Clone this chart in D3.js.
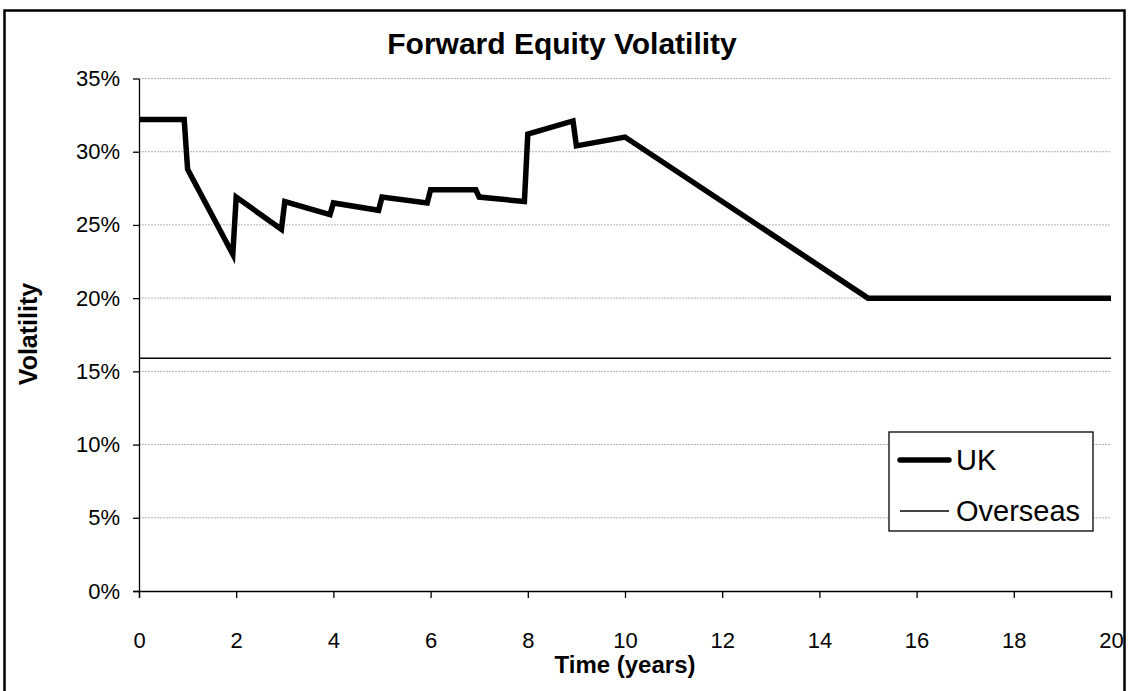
<!DOCTYPE html>
<html lang="en">
<head>
    <meta charset="UTF-8">
    <script src="https://d3js.org/d3.v7.min.js"></script>
</head>
<style>
    body { margin: 0; background: white; }
    svg { display: block; font-family: 'Liberation Sans', Arial, sans-serif; }
    .grid line { stroke: #b0b0b0; stroke-width: 1; stroke-dasharray: 2,1; }
    .axis path, .axis line { stroke: #000; stroke-width: 1.3; }
    .axis text { font-size: 22px; fill: #000; }
</style>
<body>
<div class="chart"></div>
<script>
    // UK forward vol (years, vol)
    const ukYears = [0, 0.93, 1, 1.93, 2, 2.93, 3, 3.93, 4, 4.93, 5, 5.93, 6, 6.93, 7, 7.93, 8, 8.93, 9, 10, 15, 20]
    const ukVol = [0.322, 0.322, 0.288, 0.230, 0.269, 0.247, 0.266, 0.257, 0.265, 0.260, 0.269, 0.265, 0.274, 0.274, 0.269, 0.266, 0.312, 0.321, 0.304, 0.310, 0.200, 0.200]
    const overseasYears = [0, 20]
    const overseasVol = [0.159, 0.159]
    const xTicks = [0, 2, 4, 6, 8, 10, 12, 14, 16, 18, 20]
    const yTicks = [0, 0.05, 0.10, 0.15, 0.20, 0.25, 0.30, 0.35]
    const seriesNames = ['UK', 'Overseas']

    const width = 1129, height = 691
    const margin = {left: 139, right: 18, top: 78.5, bottom: 100}

    const svg = d3.select('.chart').append('svg')
        .attr('width', width)
        .attr('height', height)

    // outer chart border
    svg.append('rect')
        .attr('x', 4.5).attr('y', 10.5)
        .attr('width', 1120).attr('height', 720)
        .attr('fill', 'white')
        .attr('stroke', '#000')
        .attr('stroke-width', 2.5)

    const x = d3.scaleLinear().domain([0, 20]).range([margin.left, width - margin.right])
    const y = d3.scaleLinear().domain([0, 0.35]).range([591, margin.top])

    // gridlines
    svg.append('g').attr('class', 'grid')
        .selectAll('line')
        .data(yTicks.filter(d => d > 0))
        .enter().append('line')
        .attr('x1', x(0)).attr('x2', x(20))
        .attr('y1', d => y(d)).attr('y2', d => y(d))

    svg.append('g').attr('class', 'axis')
        .attr('transform', 'translate(0,' + y(0) + ')')
        .call(d3.axisBottom(x).tickValues(xTicks).tickSize(7).tickPadding(34).tickFormat(d3.format('d')))

    svg.append('g').attr('class', 'axis')
        .attr('transform', 'translate(' + x(0) + ',0)')
        .call(d3.axisLeft(y).tickValues(yTicks).tickSize(6).tickPadding(13).tickFormat(d3.format('.0%')))

    svg.selectAll('.axis .domain').attr('d', function () {
        return d3.select(this).attr('d').replace(/V6|V-6|H-6|H6/g, '')
    })

    const line = d3.line()
        .x(d => x(d[0]))
        .y(d => y(d[1]))

    svg.append('path')
        .datum(overseasYears.map((d, i) => [d, overseasVol[i]]))
        .attr('d', line)
        .attr('fill', 'none')
        .attr('stroke', '#000')
        .attr('stroke-width', 1.5)

    svg.append('path')
        .datum(ukYears.map((d, i) => [d, ukVol[i]]))
        .attr('d', line)
        .attr('fill', 'none')
        .attr('stroke', '#000')
        .attr('stroke-width', 5.5)
        .attr('stroke-linejoin', 'miter')

    // title
    svg.append('text')
        .attr('x', 562).attr('y', 54)
        .attr('text-anchor', 'middle')
        .attr('font-size', 30).attr('font-weight', 'bold')
        .text('Forward Equity Volatility')

    svg.append('text')
        .attr('x', 625).attr('y', 673)
        .attr('text-anchor', 'middle')
        .attr('font-size', 24).attr('font-weight', 'bold')
        .text('Time (years)')

    svg.append('text')
        .attr('transform', 'translate(37,334) rotate(-90)')
        .attr('text-anchor', 'middle')
        .attr('font-size', 25).attr('font-weight', 'bold')
        .text('Volatility')

    // legend
    const legend = svg.append('g').attr('transform', 'translate(889,432)')
    legend.append('rect')
        .attr('width', 204).attr('height', 99)
        .attr('fill', 'white')
        .attr('stroke', '#000')
        .attr('stroke-width', 1.3)
    const widths = [5.5, 1.5]
    seriesNames.forEach((name, i) => {
        const ly = 28 + i * 51
        legend.append('line')
            .attr('x1', 11).attr('x2', 60)
            .attr('y1', ly).attr('y2', ly)
            .attr('stroke', '#000')
            .attr('stroke-width', widths[i])
            .attr('stroke-linecap', i === 0 ? 'round' : 'butt')
        legend.append('text')
            .attr('x', 67).attr('y', ly + 10)
            .attr('font-size', 29)
            .text(name)
    })
</script>
</body>
</html>
